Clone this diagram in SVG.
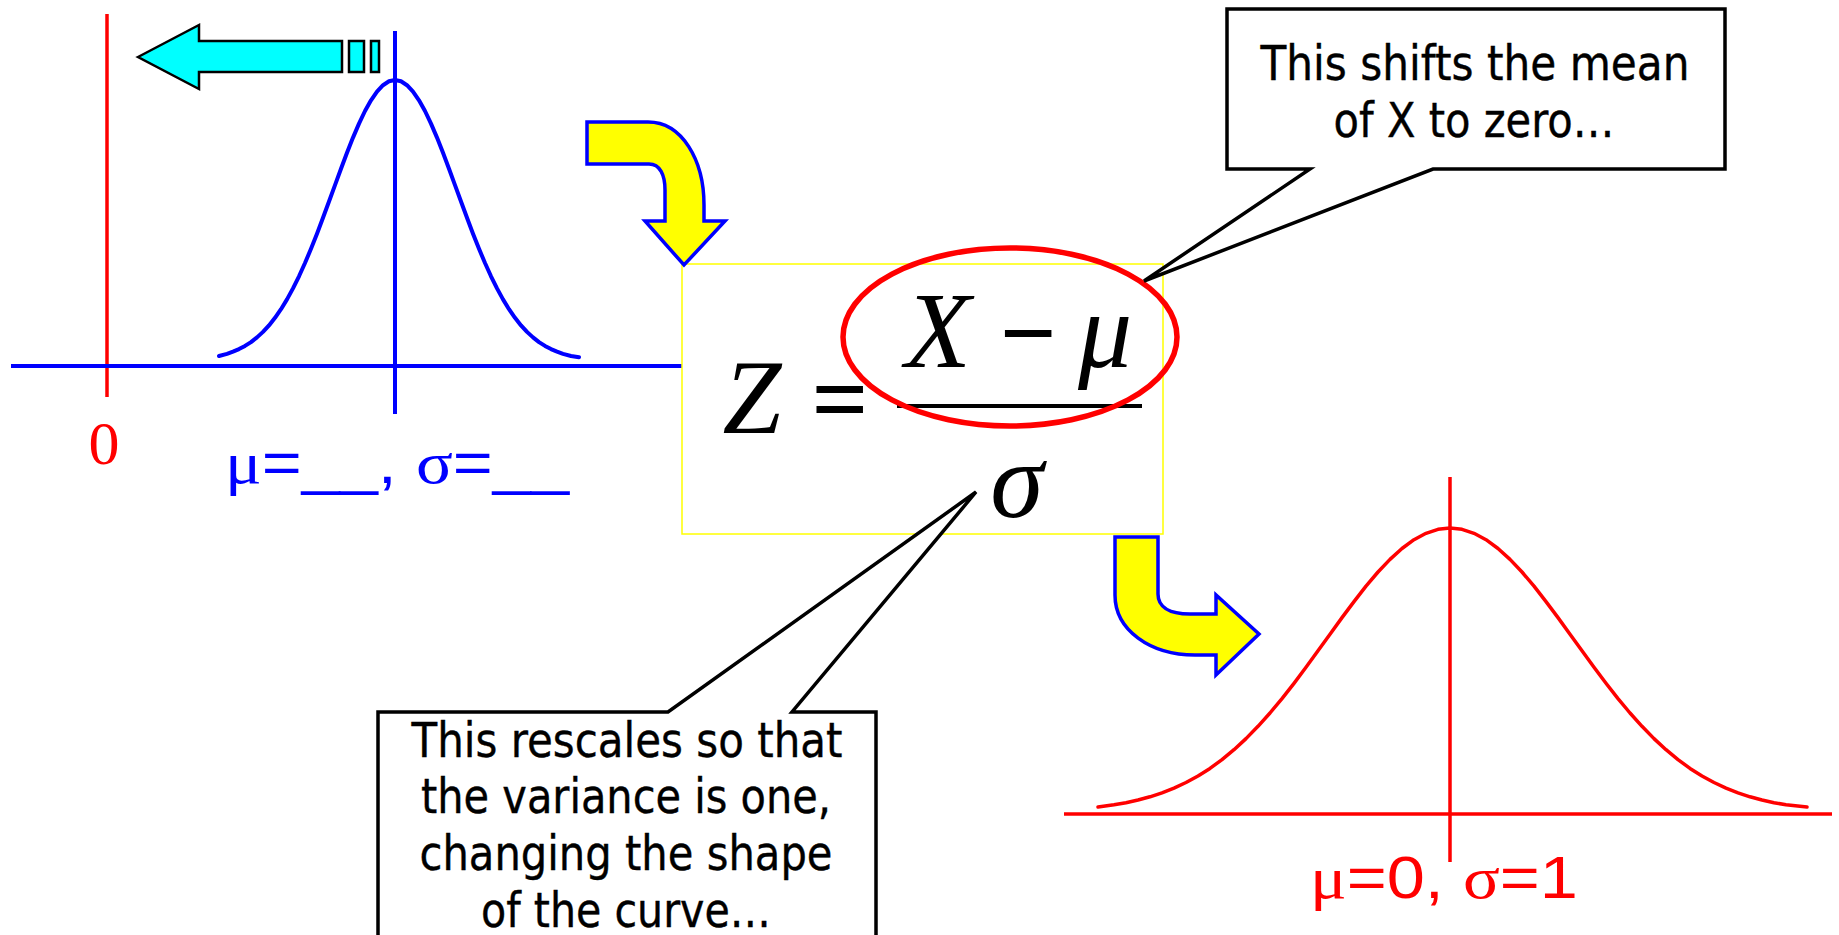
<svg xmlns="http://www.w3.org/2000/svg" width="1839" height="935" viewBox="0 0 1839 935">
<style>
.blue{stroke:#0000ff;fill:none;stroke-width:4}
.red{stroke:#ff0000;fill:none;stroke-width:3.5}
.bend{fill:#ffff00;stroke:#0000ff;stroke-width:3.5;stroke-linejoin:miter}
.callout{fill:#ffffff;stroke:#000000;stroke-width:3.5;stroke-linejoin:miter}
.ct{font-family:"DejaVu Sans","Liberation Sans",sans-serif;font-size:48px;fill:#000;stroke:#000;stroke-width:0.4;text-anchor:middle}
.math{font-family:"Liberation Serif","Times New Roman",serif;fill:#000;text-anchor:middle}
.lbl{font-family:"Liberation Sans",Arial,sans-serif;font-size:60px}
.gr{font-family:"Liberation Serif","Times New Roman",serif}
</style>
<rect width="1839" height="935" fill="#ffffff"/>

<g id="left-plot">
  <line class="red" x1="107" y1="14" x2="107" y2="397" stroke-width="3.2"/>
  <line class="blue" x1="11" y1="366" x2="682" y2="366"/>
  <line class="blue" x1="395" y1="31" x2="395" y2="414"/>
  <polyline class="blue" stroke-width="4.5" stroke-linejoin="round" stroke-linecap="round" points="219,356 227,353.9 233,351.7 239,349.1 245,345.9 251,342.1 257,337.4 263,331.9 269,325.4 275,317.8 281,309.2 287,299.4 293,288.4 299,276.3 305,263 311,248.8 317,233.7 323,217.8 329,201.5 335,185.1 341,168.7 347,152.8 353,137.6 359,123.6 365,111 371,100.3 377,91.6 383,85.2 389,81.3 395,80 401,81.3 407,85.2 413,91.6 419,100.3 425,111 431,123.6 437,137.6 443,152.8 449,168.7 455,185.1 461,201.5 467,217.8 473,233.7 479,248.8 485,263 491,276.3 497,288.4 503,299.4 509,309.2 515,317.8 521,325.4 527,331.9 533,337.4 539,342.1 545,345.9 551,349.1 557,351.7 563,353.9 571,356 579,357.3"/>
  <text x="104" y="464" font-family="'Liberation Serif','Times New Roman',serif" font-size="62" fill="#ff0000" text-anchor="middle">0</text>
  <text class="lbl" x="225" y="483" fill="#0000ff" textLength="344" lengthAdjust="spacingAndGlyphs"><tspan class="gr">μ</tspan>=__, <tspan class="gr">σ</tspan>=__</text>
</g>

<g id="formula">
  <rect x="682" y="264" width="481" height="270" fill="none" stroke="#ffff00" stroke-width="1.5"/>
  <text class="math" x="752" y="433" font-size="106" font-style="italic">Z</text>
  <text class="math" x="840" y="433" font-size="100" font-weight="bold">=</text>
  <line x1="897" y1="406" x2="1142" y2="406" stroke="#000" stroke-width="4"/>
  <text class="math" x="938" y="367" font-size="108" font-style="italic">X</text>
  <text class="math" x="1028" y="367" font-size="100" font-weight="bold">−</text>
  <text class="math" x="1105" y="367" font-size="108" font-style="italic">μ</text>
  <text class="math" x="1017" y="517" font-size="108" font-style="italic">σ</text>
  <ellipse cx="1010" cy="337" rx="167" ry="89" fill="none" stroke="#ff0000" stroke-width="5.5"/>
</g>

<g id="right-plot">
  <line class="red" x1="1064" y1="814" x2="1832" y2="814"/>
  <line class="red" x1="1450" y1="477" x2="1450" y2="862"/>
  <polyline class="red" stroke-width="4.5" stroke-linejoin="round" stroke-linecap="round" points="1098,806.9 1114,804.8 1126,802.7 1138,800 1150,796.8 1162,792.9 1174,788.1 1186,782.5 1198,776 1210,768.4 1222,759.6 1234,749.7 1246,738.6 1258,726.3 1270,713 1282,698.6 1294,683.3 1306,667.3 1318,650.8 1330,634.2 1342,617.6 1354,601.6 1366,586.2 1378,572 1390,559.4 1402,548.5 1414,539.7 1426,533.3 1438,529.3 1450,528 1462,529.3 1474,533.3 1486,539.7 1498,548.5 1510,559.4 1522,572 1534,586.2 1546,601.6 1558,617.6 1570,634.2 1582,650.8 1594,667.3 1606,683.3 1618,698.6 1630,713 1642,726.3 1654,738.6 1666,749.7 1678,759.6 1690,768.4 1702,776 1714,782.5 1726,788.1 1738,792.9 1750,796.8 1762,800 1774,802.7 1786,804.8 1807,807"/>
  <text class="lbl" x="1310" y="898" fill="#ff0000" textLength="268" lengthAdjust="spacingAndGlyphs"><tspan class="gr">μ</tspan>=0, <tspan class="gr">σ</tspan>=1</text>
</g>

<g id="callout-top">
  <path class="callout" d="M1227,9 L1725,9 L1725,169 L1433,169 L1144,281 L1310,169 L1227,169 Z"/>
  <text class="ct" x="1475" y="80" textLength="429" lengthAdjust="spacingAndGlyphs">This shifts the mean</text>
  <text class="ct" x="1474" y="137" textLength="281" lengthAdjust="spacingAndGlyphs">of X to zero…</text>
</g>

<g id="callout-bottom">
  <path class="callout" d="M378,712 L668,712 L976,492 L792,712 L876,712 L876,960 L378,960 Z"/>
  <text class="ct" x="627" y="757" textLength="431" lengthAdjust="spacingAndGlyphs">This rescales so that</text>
  <text class="ct" x="626" y="813" textLength="410" lengthAdjust="spacingAndGlyphs">the variance is one,</text>
  <text class="ct" x="626" y="870" textLength="413" lengthAdjust="spacingAndGlyphs">changing the shape</text>
  <text class="ct" x="626" y="927" textLength="290" lengthAdjust="spacingAndGlyphs">of the curve…</text>
</g>

<g id="connectors">
  <g id="shift-arrow" fill="#00ffff" stroke="#000" stroke-width="2.5">
    <polygon points="138,57 199,25 199,41 342,41 342,72 199,72 199,89"/>
    <rect x="349" y="41" width="15" height="31"/>
    <rect x="371" y="41" width="8" height="31"/>
  </g>
  <path id="bend-in" class="bend" d="M587,122 L648,122 C682,122 704,160 704,205 L704,221 L725,221 L684,265 L645,221 L665,221 L665,190 C665,175 660,164 649,164 L587,164 Z"/>
  <path id="bend-out" class="bend" d="M1115,537 L1158,537 L1158,594 C1158,606 1168,614 1190,614 L1216,614 L1216,595 L1259,634 L1216,675 L1216,655 L1195,655 C1150,655 1115,630 1115,595 Z"/>
</g>
</svg>
